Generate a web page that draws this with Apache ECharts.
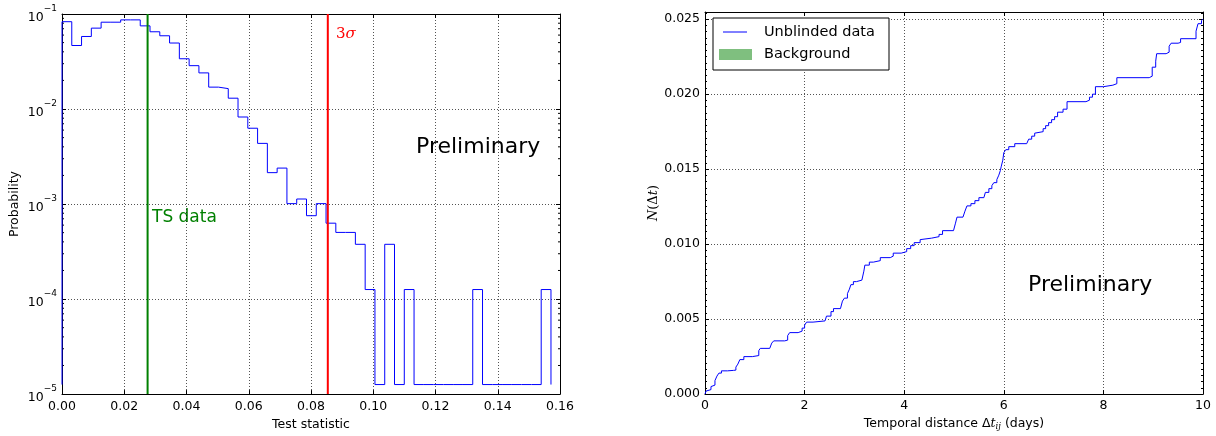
<!DOCTYPE html>
<html>
<head>
<meta charset="utf-8">
<script src="https://cdn.jsdelivr.net/npm/echarts@6/dist/echarts.min.js"></script>
<style>
html,body{margin:0;padding:0;background:#fff;}
#c{width:1216px;height:436px;}
</style>
</head>
<body>
<div id="c"></div>
<script>
// ---------- Left panel data: histogram of test statistic ----------
const histStart = 0.0;
const histBinWidth = 0.003142;
const histBottom = 1.26e-5;
const histValues = [
  0.083, 0.0466, 0.058, 0.071, 0.082, 0.082, 0.0867, 0.0867, 0.075, 0.065,
  0.059, 0.0495, 0.0338, 0.0286, 0.024, 0.017, 0.0164, 0.013, 0.00824, 0.00628,
  0.00435, 0.00214, 0.00239, 0.00101, 0.00113, 0.000754, 0.00101, 0.000629, 0.000503, 0.000503,
  0.000377, 0.000126, 1.26e-5, 0.000377, 1.26e-5, 0.000126, 1.26e-5, 1.26e-5, 1.26e-5, 1.26e-5,
  1.26e-5, 1.26e-5, 0.000126, 1.26e-5, 1.26e-5, 1.26e-5, 1.26e-5, 1.26e-5, 1.26e-5, 0.000126
];
const tsData = 0.0275;
const threeSigma = 0.0854;
const leftXTicks = [0, 0.16, 0.02];      // min, max, step
const leftYRange = [1e-5, 1e-1];
const minorMantissas = [2, 3, 4, 5, 6, 7, 8, 9];
const minorDecades = [1e-5, 1e-4, 1e-3, 1e-2];

// ---------- Right panel data: cumulative N(Δt) ----------
const cdfX = [
  0, 0.02, 0.06, 0.12, 0.16, 0.20, 0.24, 0.28, 0.33, 0.45,
  0.57, 0.62, 0.66, 0.70, 0.78, 0.95, 1.08, 1.11, 1.30, 1.34,
  1.38, 1.60, 1.66, 1.70, 1.87, 1.95, 2.00, 2.04, 2.17, 2.41,
  2.44, 2.53, 2.58, 2.72, 2.76, 2.80, 2.86, 2.90, 2.93, 2.98,
  3.04, 3.15, 3.19, 3.21, 3.30, 3.38, 3.52, 3.72, 3.78, 3.94,
  4.05, 4.13, 4.20, 4.32, 4.36, 4.55, 4.70, 4.77, 4.99, 5.03,
  5.06, 5.18, 5.22, 5.26, 5.34, 5.42, 5.50, 5.60, 5.63, 5.70,
  5.76, 5.80, 5.86, 5.90, 5.93, 5.95, 5.98, 6.00, 6.04, 6.10,
  6.22, 6.46, 6.50, 6.56, 6.62, 6.66, 6.79, 6.84, 6.90, 6.96,
  7.02, 7.08, 7.19, 7.27, 7.65, 7.72, 7.78, 7.84, 8.00, 8.19,
  8.27, 8.92, 8.98, 9.05, 9.07, 9.26, 9.32, 9.36, 9.50, 9.55,
  9.86, 9.90, 9.97, 10.0
];
const cdfY = [
  0, 0.0002, 0.0003, 0.0005, 0.0006, 0.0009, 0.0012, 0.0014, 0.00155, 0.00158,
  0.0016, 0.0018, 0.0020, 0.0023, 0.0025, 0.00257, 0.0029, 0.00305, 0.00311, 0.0034,
  0.00355, 0.0036, 0.0039, 0.0041, 0.0042, 0.0044, 0.0046, 0.0048, 0.00488, 0.00495,
  0.0052, 0.0055, 0.0057, 0.0058, 0.0062, 0.0064, 0.0067, 0.0070, 0.0073, 0.0075,
  0.0076, 0.0077, 0.0082, 0.0086, 0.0088, 0.0089, 0.0091, 0.0092, 0.0094, 0.0095,
  0.0097, 0.0099, 0.0101, 0.0103, 0.0104, 0.0105, 0.01065, 0.0109, 0.0110, 0.0114,
  0.0118, 0.0119, 0.0122, 0.01255, 0.0127, 0.0129, 0.0131, 0.0132, 0.01345, 0.0137,
  0.0139, 0.0141, 0.0143, 0.0146, 0.0149, 0.0152, 0.0156, 0.0161, 0.0163, 0.0165,
  0.0167, 0.0168, 0.0170, 0.0172, 0.0174, 0.0175, 0.0177, 0.0179, 0.0181, 0.0183,
  0.0185, 0.0188, 0.0190, 0.0195, 0.0196, 0.0198, 0.0200, 0.0205, 0.0206, 0.0207,
  0.0211, 0.0212, 0.0218, 0.0222, 0.0227, 0.0228, 0.0232, 0.0234, 0.02345, 0.0237,
  0.0242, 0.0247, 0.0249, 0.0250
];
const rightXTicks = [0, 10, 2];
const rightYTicks = [0, 0.02548, 0.005];

// ---------- build ----------
const histData = [[histStart, histBottom]];
histValues.forEach((v, i) => histData.push([histStart + i * histBinWidth, v]));
const histEnd = histStart + histValues.length * histBinWidth;
histData.push([histEnd, histValues[histValues.length - 1]]);
histData.push([histEnd, histBottom]);

const minorData = [];
minorDecades.forEach(d => minorMantissas.forEach(m => minorData.push([0, m * d])));

const cdfData = cdfX.map((x, i) => [x, cdfY[i]]);

const FONT = 'DejaVu Sans';
const tickFont = 12.5;
const gridLine = { show: true, lineStyle: { color: '#000', width: 0.8, type: [1, 2], opacity: 0.85 } };
const spine = { show: true, onZero: false, lineStyle: { color: '#000', width: 1 } };

function mirror(base, pos) {
  return Object.assign({}, base, {
    position: pos,
    axisLabel: { show: false },
    splitLine: { show: false },
    name: ''
  });
}

const xLeft = {
  type: 'value', gridIndex: 0, min: leftXTicks[0], max: leftXTicks[1], interval: leftXTicks[2],
  axisLine: spine,
  axisTick: { show: true, inside: true, length: 4, lineStyle: { color: '#000' } },
  axisLabel: { show: true, color: '#000', fontFamily: FONT, fontSize: tickFont, margin: 6,
    formatter: v => v.toFixed(2) },
  splitLine: gridLine,
  name: 'Test statistic', nameLocation: 'middle', nameGap: 20,
  nameTextStyle: { color: '#000', fontFamily: FONT, fontSize: 12.5 }
};
const yLeft = {
  type: 'log', logBase: 10, gridIndex: 0, min: leftYRange[0], max: leftYRange[1],
  axisLine: spine,
  axisTick: { show: true, inside: true, length: 4, lineStyle: { color: '#000' } },
  axisLabel: { show: true, color: '#000', margin: 5,
    formatter: v => {
      const e = Math.round(Math.log10(v));
      return '{b|10}{s|' + (e < 0 ? '\u2212' : '') + Math.abs(e) + '}';
    },
    rich: {
      b: { fontFamily: FONT, fontSize: 12.5, color: '#000', lineHeight: 20, verticalAlign: 'bottom', padding: [8, 0, 0, 0] },
      s: { fontFamily: FONT, fontSize: 9, color: '#000', lineHeight: 20, verticalAlign: 'top', padding: [0, 0, 8, 0] }
    }
  },
  splitLine: gridLine,
  name: 'Probability', nameLocation: 'middle', nameGap: 41,
  nameTextStyle: { color: '#000', fontFamily: FONT, fontSize: 12.5 }
};
const xRight = {
  type: 'value', gridIndex: 1, min: rightXTicks[0], max: rightXTicks[1], interval: rightXTicks[2],
  axisLine: spine,
  axisTick: { show: true, inside: true, length: 4, lineStyle: { color: '#000' } },
  axisLabel: { show: true, color: '#000', fontFamily: FONT, fontSize: tickFont, margin: 5,
    formatter: v => String(v) },
  splitLine: gridLine,
  name: '{n|Temporal distance \u0394}{i|t}{sub|ij}{n| (days)}', nameLocation: 'middle', nameGap: 19,
  nameTextStyle: {
    rich: {
      n: { fontFamily: FONT, fontSize: 12.5, color: '#000' },
      i: { fontFamily: 'DejaVu Serif', fontStyle: 'italic', fontSize: 12.5, color: '#000' },
      sub: { fontFamily: 'DejaVu Serif', fontStyle: 'italic', fontSize: 8.5, color: '#000', padding: [6, 0, 0, 0] }
    }
  }
};
const yRight = {
  type: 'value', gridIndex: 1, min: rightYTicks[0], max: rightYTicks[1], interval: rightYTicks[2],
  axisLine: spine,
  axisTick: { show: true, inside: true, length: 4, lineStyle: { color: '#000' } },
  minorTick: { show: true, splitNumber: 12, length: 2, lineStyle: { color: '#000' } },
  axisLabel: { show: true, color: '#000', fontFamily: FONT, fontSize: tickFont, margin: 5,
    showMaxLabel: false,
    formatter: v => (Math.abs(v / 0.005 - Math.round(v / 0.005)) < 1e-6 ? v.toFixed(3) : '') },
  splitLine: gridLine,
  name: '{i|N}{n|(\u0394}{i|t}{n|)}', nameLocation: 'middle', nameGap: 44,
  nameTextStyle: {
    rich: {
      n: { fontFamily: 'DejaVu Serif', fontSize: 13, color: '#000' },
      i: { fontFamily: 'DejaVu Serif', fontStyle: 'italic', fontSize: 13, color: '#000' }
    }
  }
};

const chart = echarts.init(document.getElementById('c'), null, { renderer: 'canvas' });
chart.setOption({
  animation: false,
  backgroundColor: '#fff',
  grid: [
    { left: 62, top: 14, width: 498, height: 385 },
    { left: 705, top: 12, width: 498, height: 387 }
  ],
  xAxis: [xLeft, mirror(xLeft, 'top'), xRight, mirror(xRight, 'top')],
  yAxis: [yLeft, mirror(yLeft, 'right'), yRight, mirror(yRight, 'right')],
  series: [
    {
      name: 'hist', type: 'line', xAxisIndex: 0, yAxisIndex: 0, step: 'end',
      data: histData, symbol: 'none', silent: true,
      lineStyle: { color: '#0000ff', width: 1 },
      z: 3
    },
    {
      name: 'TS data', type: 'line', xAxisIndex: 0, yAxisIndex: 0,
      data: [[tsData, leftYRange[0]], [tsData, leftYRange[1]]], symbol: 'none', silent: true,
      lineStyle: { color: '#008000', width: 2 }, z: 4
    },
    {
      name: '3 sigma', type: 'line', xAxisIndex: 0, yAxisIndex: 0,
      data: [[threeSigma, leftYRange[0]], [threeSigma, leftYRange[1]]], symbol: 'none', silent: true,
      lineStyle: { color: '#ff0000', width: 2 }, z: 4
    },
    {
      name: 'minorTicks', type: 'custom', xAxisIndex: 0, yAxisIndex: 0, silent: true,
      data: minorData, clip: false,
      renderItem: (params, api) => {
        const v = api.value(1);
        const pl = api.coord([leftXTicks[0], v]);
        const pr = api.coord([leftXTicks[1], v]);
        return {
          type: 'group', children: [
            { type: 'line', shape: { x1: pl[0], y1: pl[1], x2: pl[0] + 2, y2: pl[1] }, style: { stroke: '#000', lineWidth: 1 } },
            { type: 'line', shape: { x1: pr[0] - 2, y1: pr[1], x2: pr[0], y2: pr[1] }, style: { stroke: '#000', lineWidth: 1 } }
          ]
        };
      }
    },
    {
      name: 'Unblinded data', type: 'line', xAxisIndex: 2, yAxisIndex: 2, step: 'end',
      data: cdfData, symbol: 'none', silent: true,
      lineStyle: { color: '#0000ff', width: 1 }
    }
  ],
  graphic: [
    { type: 'text', style: { x: 152, y: 218, text: 'TS data', fill: '#008000', fontFamily: FONT, fontSize: 17, verticalAlign: 'middle' } },
    { type: 'text', style: { x: 336, y: 34, text: '{n|3}{i|\u03C3}', fill: '#ff0000', verticalAlign: 'middle',
      rich: { n: { fontFamily: 'DejaVu Serif', fontSize: 15, fill: '#ff0000', color: '#ff0000' },
              i: { fontFamily: 'DejaVu Serif', fontStyle: 'italic', fontSize: 15, fill: '#ff0000', color: '#ff0000' } } } },
    { type: 'text', style: { x: 416, y: 147, text: 'Preliminary', fill: '#000', fontFamily: FONT, fontSize: 22, verticalAlign: 'middle' } },
    { type: 'text', style: { x: 1028, y: 285, text: 'Preliminary', fill: '#000', fontFamily: FONT, fontSize: 22, verticalAlign: 'middle' } },
    // legend
    { type: 'rect', shape: { x: 713, y: 18, width: 176, height: 52 }, style: { fill: '#fff', stroke: '#000', lineWidth: 1 }, z: 10 },
    { type: 'line', shape: { x1: 723, y1: 32, x2: 747, y2: 32 }, style: { stroke: '#0000ff', lineWidth: 1 }, z: 11 },
    { type: 'rect', shape: { x: 719, y: 49, width: 33, height: 11 }, style: { fill: '#7fbf7f' }, z: 11 },
    { type: 'text', style: { x: 764, y: 32, text: 'Unblinded data', fill: '#000', fontFamily: FONT, fontSize: 14.5, verticalAlign: 'middle' }, z: 11 },
    { type: 'text', style: { x: 764, y: 54, text: 'Background', fill: '#000', fontFamily: FONT, fontSize: 14.5, verticalAlign: 'middle' }, z: 11 }
  ]
});
</script>
</body>
</html>
